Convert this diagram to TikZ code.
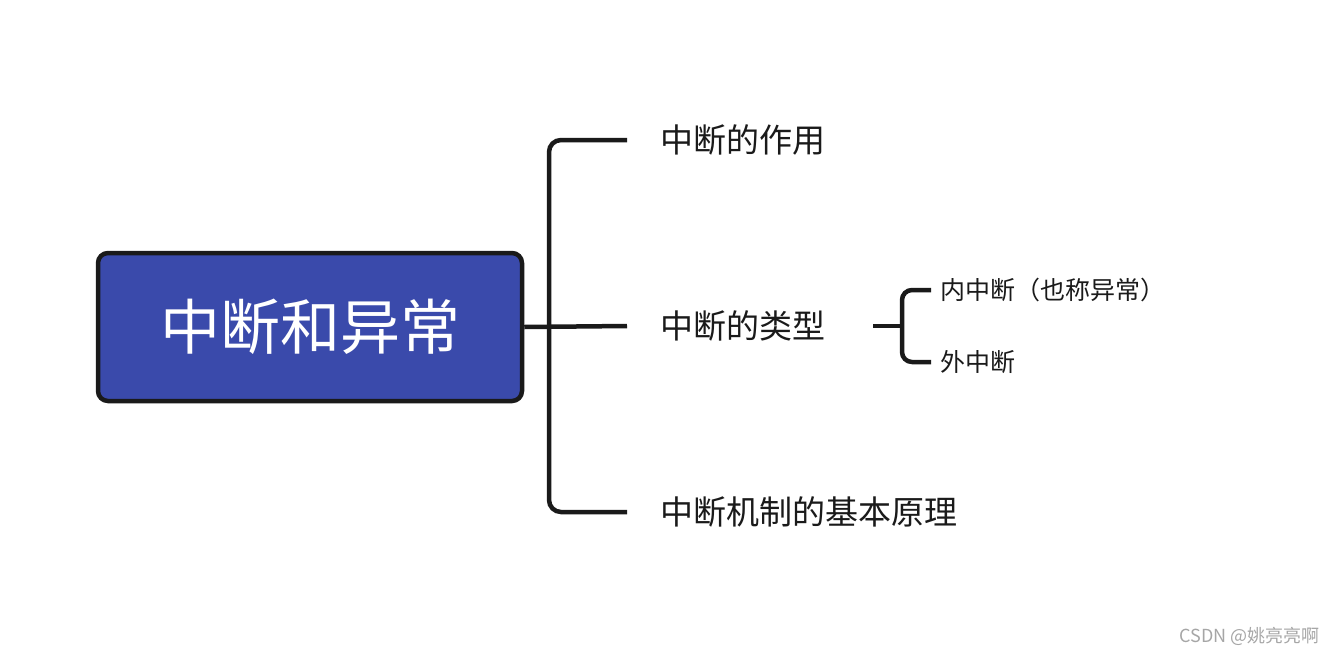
\documentclass[tikz,border=0pt]{standalone}
\usepackage{fontspec}
\setmainfont{Noto Sans CJK SC}
\definecolor{rootblue}{HTML}{3A4AAB}
\definecolor{linec}{HTML}{1A1A1A}
\begin{document}
\begin{tikzpicture}[x=1pt,y=-1pt,
  conn/.style={draw=linec,line width=4.5pt,rounded corners=12pt},
  lab/.style={anchor=west,inner sep=0pt,text=linec,font=\fontsize{33}{36}\selectfont},
  sublab/.style={anchor=west,inner sep=0pt,text=linec,font=\fontsize{25}{28}\selectfont}]
\useasboundingbox (0,0) rectangle (1334,654);
\node[draw=linec,line width=4.5pt,fill=rootblue,rounded corners=10pt,minimum width=424pt,minimum height=148pt,text=white,font=\fontsize{60}{66}\selectfont] (root) at (310,327) {中断和异常};
\node[lab] (a) at (660,140) {中断的作用};
\node[lab] (b) at (660,326) {中断的类型};
\node[lab] (c) at (660,512) {中断机制的基本原理};
\node[sublab] (b1) at (940,290) {内中断（也称异常）};
\node[sublab] (b2) at (940,362) {外中断};
\coordinate (ae) at (627,140);
\coordinate (be) at (627,326);
\coordinate (ce) at (627,512);
\draw[conn] (root.east) -- (be);
\draw[conn] (ae) -- (549,140) -- (549,512) -- (ce);
\coordinate (bs) at (873,326);
\draw[conn,rounded corners=10pt] (bs) -- (902,326);
\draw[conn,rounded corners=10pt] (931,290) -- (902,290) -- (902,362) -- (931,362);
\node[anchor=east,inner sep=0pt,text=gray!70,font=\fontsize{18}{20}\selectfont] (wm) at (1320,636) {CSDN @姚亮亮啊};
\end{tikzpicture}
\end{document}
